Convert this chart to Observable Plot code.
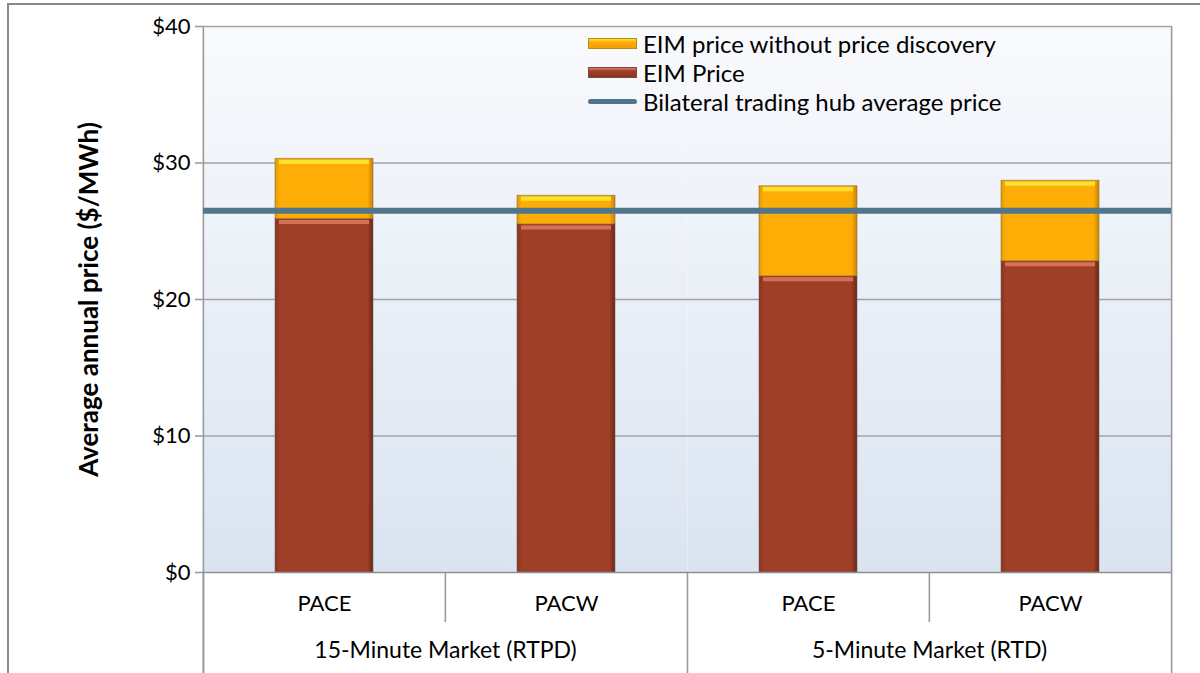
<!DOCTYPE html>
<html>
<head>
<meta charset="utf-8">
<script src="https://cdn.jsdelivr.net/npm/d3@7"></script>
<script src="https://cdn.jsdelivr.net/npm/@observablehq/plot@0.6"></script>
<style>
  html, body { margin: 0; padding: 0; background: #fff; }
  #wrap { position: relative; width: 1200px; height: 673px; overflow: hidden; font-family: Lato, "Open Sans", sans-serif; }
  #outer { position: absolute; left: 7px; top: 3px; width: 1300px; height: 800px; border-left: 2px solid #8a8a8a; border-top: 2px solid #8a8a8a; pointer-events: none; }
  #legend { position: absolute; left: 588px; top: 29px; font-size: 24px; color: #000; }
  .row { display: flex; align-items: center; height: 29px; }
  .sw { width: 49px; margin-right: 6px; box-sizing: border-box; }
  .sw.yel { height: 11px; background: linear-gradient(#ffe030 0%, #fdad06 35%, #f0a000 100%); border: 1px solid #b88a20; }
  .sw.red { height: 11px; background: linear-gradient(#e07a60 0%, #a03f27 35%, #8a3320 100%); border: 1px solid #7a4a40; }
  .sw.line { height: 5px; border-radius: 3px; background: #50768b; }
</style>
</head>
<body>
<div id="wrap">
  <div id="chart"></div>
  <div id="outer"></div>
  <div id="legend"></div>
</div>
<script>
// ---- data ----
const markets = ["15-Minute Market (RTPD)", "5-Minute Market (RTD)"];
const zones = ["PACE", "PACW"];
const barMarket = [markets[0], markets[0], markets[1], markets[1]];
const barZone = ["PACE", "PACW", "PACE", "PACW"];
const eimPrice = [25.9, 25.5, 21.7, 22.8];
const noDiscoveryPrice = [30.3, 27.6, 28.3, 28.7];
const hubAverage = 26.5;
const yTicks = [0, 10, 20, 30, 40];
const seriesNames = ["EIM price without price discovery", "EIM Price", "Bilateral trading hub average price"];
const yTitle = "Average annual price ($/MWh)";

const rows = barMarket.map((m, i) => ({market: m, zone: barZone[i], eim: eimPrice[i], nod: noDiscoveryPrice[i]}));

// ---- layout ----
const W = 1200, H = 673;
const mL = 202, mR = 29, mT = 26, mB = 101;
const plotH = H - mT - mB;
const bandW = (W - mL - mR) / (markets.length * zones.length);
const barInset = 72;
const gridColor = "#a3a3a3";
const lineColor = "#9b9b9b";

const chart = Plot.plot({
  width: W, height: H,
  marginLeft: mL, marginRight: mR, marginTop: mT, marginBottom: mB,
  style: {fontFamily: "Lato, 'Open Sans', sans-serif", fontSize: "21px", color: "#000", background: "transparent", overflow: "visible"},
  fx: {domain: markets, padding: 0},
  x: {domain: zones, padding: 0},
  y: {domain: [0, 40]},
  marks: [
    Plot.frame({fill: "url(#bgGrad)", stroke: "none"}),
    Plot.gridY(yTicks.slice(1), {stroke: gridColor, strokeOpacity: 1, strokeWidth: 1.4}),
    // category-axis separators below the plot area
    Plot.frame({anchor: "left", stroke: lineColor, strokeWidth: 1.6, insetTop: plotH, insetBottom: -mB}),
    Plot.axisX([zones[1]], {tickSize: 50, dx: -bandW / 2, text: null, stroke: lineColor, strokeWidth: 1.6, label: null}),
    // full-height left axis line and right border
    Plot.ruleX([{m: markets[0], z: zones[0]}], {fx: "m", x: "z", dx: -bandW / 2, insetBottom: -mB, stroke: lineColor, strokeWidth: 1.6}),
    Plot.ruleX([{m: markets[1], z: zones[1]}], {fx: "m", x: "z", dx: bandW / 2, insetBottom: -mB, stroke: lineColor, strokeWidth: 1.6}),
    Plot.barY(rows, {fx: "market", x: "zone", y1: 0, y2: "eim", fill: "url(#redGrad)", insetLeft: barInset, insetRight: barInset, stroke: "#5e5e5e", strokeOpacity: 0.55, strokeWidth: 1}),
    Plot.barY(rows, {fx: "market", x: "zone", y1: "eim", y2: "nod", fill: "url(#yelGrad)", insetLeft: barInset, insetRight: barInset, stroke: "#7a6a40", strokeOpacity: 0.55, strokeWidth: 1}),
    Plot.tickY(rows, {fx: "market", x: "zone", y: "eim", dy: 3, stroke: "#d66f53", strokeWidth: 4, insetLeft: barInset + 4, insetRight: barInset + 4}),
    Plot.tickY(rows, {fx: "market", x: "zone", y: "nod", dy: 3, stroke: "#ffe22e", strokeWidth: 4, insetLeft: barInset + 4, insetRight: barInset + 4}),
    Plot.ruleY([0], {stroke: "#8f8f8f", strokeWidth: 1.6}),
    Plot.ruleY([hubAverage], {stroke: "#50768b", strokeWidth: 6}),
    Plot.axisY(yTicks, {tickSize: 8, tickPadding: 5, tickFormat: d => "$" + d, label: null, fontSize: 22, stroke: lineColor, strokeWidth: 1.6}),
    Plot.axisX({tickSize: 0, tickPadding: 23, label: null, fontSize: 22}),
    Plot.axisFx({anchor: "bottom", tickSize: 0, tickPadding: 69, label: null, fontSize: 23}),
    Plot.text([markets[0]], {fx: d => d, text: () => yTitle, frameAnchor: "left", textAnchor: "middle", rotate: -90, dx: -114, fontWeight: "bold", fontSize: 26})
  ]
});

// gradients
const svg = d3.select(chart);
const defs = svg.insert("defs", ":first-child");
const bg = defs.append("linearGradient").attr("id", "bgGrad").attr("x1", 0).attr("y1", 0).attr("x2", 0).attr("y2", 1);
bg.append("stop").attr("offset", "0%").attr("stop-color", "#f9fafd");
bg.append("stop").attr("offset", "100%").attr("stop-color", "#dae4f1");
function hGrad(id, edgeL, mid, edgeR) {
  const g = defs.append("linearGradient").attr("id", id).attr("x1", 0).attr("y1", 0).attr("x2", 1).attr("y2", 0);
  g.append("stop").attr("offset", "0%").attr("stop-color", edgeL);
  g.append("stop").attr("offset", "5%").attr("stop-color", mid);
  g.append("stop").attr("offset", "94%").attr("stop-color", mid);
  g.append("stop").attr("offset", "100%").attr("stop-color", edgeR);
}
hGrad("redGrad", "#8a3320", "#a03f27", "#6e2615");
hGrad("yelGrad", "#e69a00", "#fdad06", "#cc8400");

document.getElementById("chart").append(chart);

// legend
const legend = d3.select("#legend");
const swCls = ["yel", "red", "line"];
seriesNames.forEach((name, i) => {
  const r = legend.append("div").attr("class", "row");
  r.append("div").attr("class", "sw " + swCls[i]);
  r.append("span").text(name);
});
</script>
</body>
</html>
